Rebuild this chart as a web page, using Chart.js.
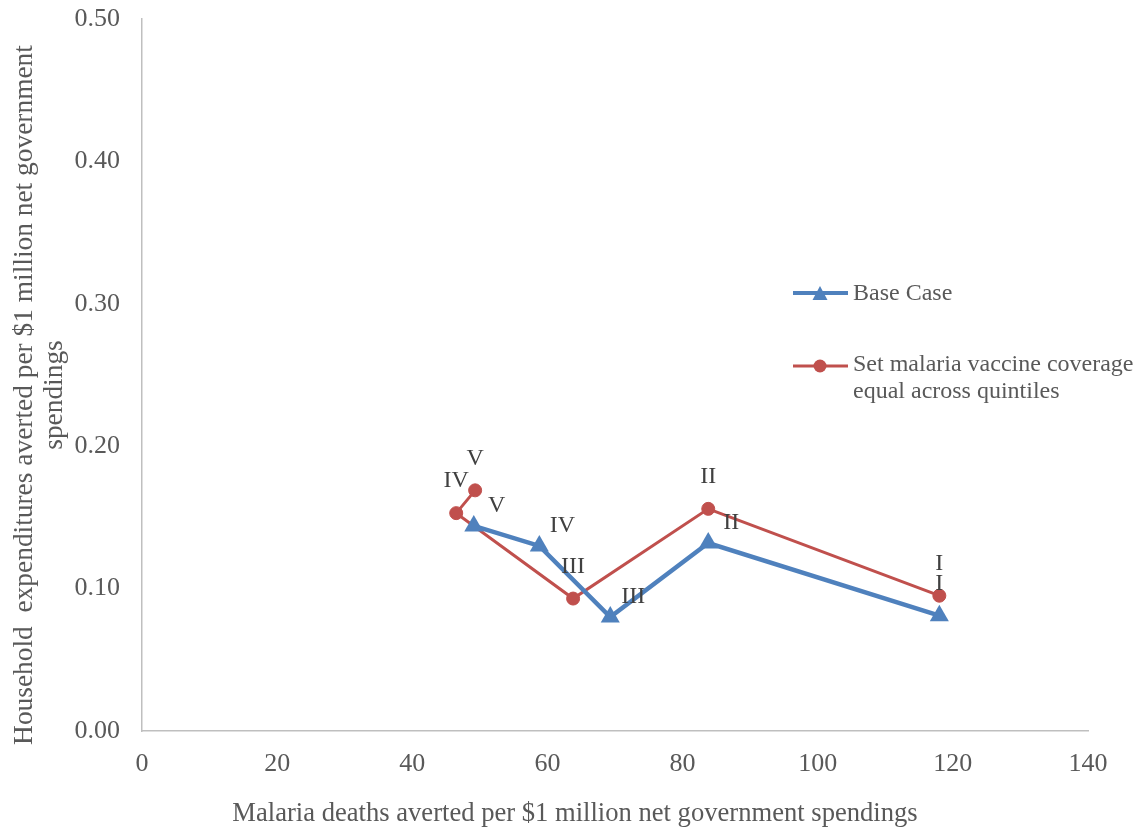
<!DOCTYPE html>
<html>
<head>
<meta charset="utf-8">
<title>Malaria deaths vs household expenditures averted</title>
<script src="https://cdn.jsdelivr.net/npm/chart.js"></script>
<style>
  html, body { margin: 0; padding: 0; background: #fff; }
  #wrap { width: 1137px; height: 831px; position: relative; }
</style>
</head>
<body>
<div id="wrap"><canvas id="chart"></canvas></div>
<script>
// wealth quintiles, I = poorest
const quintiles = ["I", "II", "III", "IV", "V"];

// Base Case
const baseDeaths = [118.0, 83.8, 69.3, 58.8, 49.1];
const baseHousehold = [0.081, 0.132, 0.080, 0.130, 0.144];

// Set malaria vaccine coverage equal across quintiles
const equalDeaths = [118.0, 83.8, 63.8, 46.5, 49.3];
const equalHousehold = [0.095, 0.156, 0.093, 0.153, 0.169];

const xTicks = [0, 20, 40, 60, 80, 100, 120, 140];
const yTicks = [0, 0.1, 0.2, 0.3, 0.4, 0.5];

const seriesNames = ["Base Case", "Set malaria vaccine coverage equal across quintiles"];
const xTitle = "Malaria deaths averted per $1 million net government spendings";
const yTitle = ["Household  expenditures averted per $1 million net government", "spendings"];

const BLUE = "#4F81BD";
const RED = "#C0504D";
const SERIF = '"Liberation Serif", "Times New Roman", serif';

// where each quintile label sits next to its point
const labelSpots = [
  ["above", "right", "right", "right", "right"],
  ["above", "above", "above", "above", "above"]
];

function toPoints(xs, ys) {
  return xs.map((x, i) => ({ x: x, y: ys[i] }));
}

// labels, axis titles and the floating legend
const overlay = {
  id: "overlay",
  afterDatasetsDraw(chart) {
    const ctx = chart.ctx;
    ctx.save();
    ctx.font = "24px " + SERIF;
    ctx.fillStyle = "#404040";
    ctx.textAlign = "center";
    ctx.textBaseline = "middle";
    chart.data.datasets.forEach((ds, i) => {
      chart.getDatasetMeta(i).data.forEach((pt, j) => {
        const right = labelSpots[i][j] === "right";
        ctx.fillText(quintiles[j], pt.x + (right ? 23 : 0), pt.y + (right ? -20 : -32));
      });
    });
    ctx.restore();
  },
  afterDraw(chart) {
    const ctx = chart.ctx;
    ctx.save();

    // axis titles
    ctx.fillStyle = "#595959";
    ctx.textAlign = "center";
    ctx.textBaseline = "alphabetic";
    ctx.font = "26.6px " + SERIF;
    ctx.fillText(xTitle, 575, 821);

    ctx.font = "27.4px " + SERIF;
    ctx.translate(32, 395);
    ctx.rotate(-Math.PI / 2);
    ctx.fillText(yTitle[0], 0, 0);
    ctx.fillText(yTitle[1], 0, 30);
    ctx.setTransform(1, 0, 0, 1, 0, 0);

    // legend
    ctx.lineCap = "butt";
    ctx.strokeStyle = BLUE;
    ctx.lineWidth = 4;
    ctx.beginPath();
    ctx.moveTo(793, 293);
    ctx.lineTo(848, 293);
    ctx.stroke();
    ctx.fillStyle = BLUE;
    ctx.beginPath();
    ctx.moveTo(820, 286);
    ctx.lineTo(827.5, 300);
    ctx.lineTo(812.5, 300);
    ctx.closePath();
    ctx.fill();

    ctx.strokeStyle = RED;
    ctx.lineWidth = 3;
    ctx.beginPath();
    ctx.moveTo(793, 366);
    ctx.lineTo(848, 366);
    ctx.stroke();
    ctx.fillStyle = RED;
    ctx.beginPath();
    ctx.arc(820, 366, 6.5, 0, Math.PI * 2);
    ctx.fill();

    ctx.font = "24px " + SERIF;
    ctx.fillStyle = "#595959";
    ctx.textAlign = "left";
    ctx.fillText(seriesNames[0], 853, 300);
    ctx.fillText("Set malaria vaccine coverage", 853, 371);
    ctx.fillText("equal across quintiles", 853, 398);
    ctx.restore();
  }
};

Chart.defaults.font.family = SERIF;
Chart.defaults.color = "#595959";

new Chart(document.getElementById("chart"), {
  type: "scatter",
  data: {
    datasets: [
      {
        label: seriesNames[0],
        data: toPoints(baseDeaths, baseHousehold),
        showLine: true,
        borderColor: BLUE,
        backgroundColor: BLUE,
        borderWidth: 4.5,
        pointStyle: "triangle",
        pointRadius: 11,
        pointBorderWidth: 0,
        pointBackgroundColor: BLUE
      },
      {
        label: seriesNames[1],
        data: toPoints(equalDeaths, equalHousehold),
        showLine: true,
        borderColor: RED,
        backgroundColor: RED,
        borderWidth: 3,
        pointStyle: "circle",
        pointRadius: 6.5,
        pointBorderWidth: 1,
        pointBackgroundColor: RED
      }
    ]
  },
  options: {
    responsive: true,
    maintainAspectRatio: false,
    animation: false,
    events: [],
    layout: { padding: { top: 19, right: 49, left: 0, bottom: 0 } },
    plugins: {
      legend: { display: false },
      tooltip: { enabled: false }
    },
    scales: {
      x: {
        type: "linear",
        min: xTicks[0],
        max: xTicks[xTicks.length - 1],
        afterBuildTicks: s => { s.ticks = xTicks.map(v => ({ value: v })); },
        afterFit: s => { s.height = 100; s.paddingLeft = 0; s.paddingRight = 0; },
        grid: { display: false, drawTicks: false },
        border: { display: true, color: "#BFBFBF", width: 1.5 },
        ticks: { padding: 18, font: { size: 26 }, color: "#595959", maxRotation: 0 }
      },
      y: {
        type: "linear",
        min: yTicks[0],
        max: yTicks[yTicks.length - 1],
        afterBuildTicks: s => { s.ticks = yTicks.map(v => ({ value: v })); },
        afterFit: s => { s.width = 142; s.paddingTop = 0; s.paddingBottom = 0; },
        grid: { display: false, drawTicks: false },
        border: { display: true, color: "#BFBFBF", width: 1.5 },
        ticks: {
          padding: 22,
          font: { size: 26 },
          color: "#595959",
          callback: v => v.toFixed(2)
        }
      }
    }
  },
  plugins: [overlay]
});
</script>
</body>
</html>
